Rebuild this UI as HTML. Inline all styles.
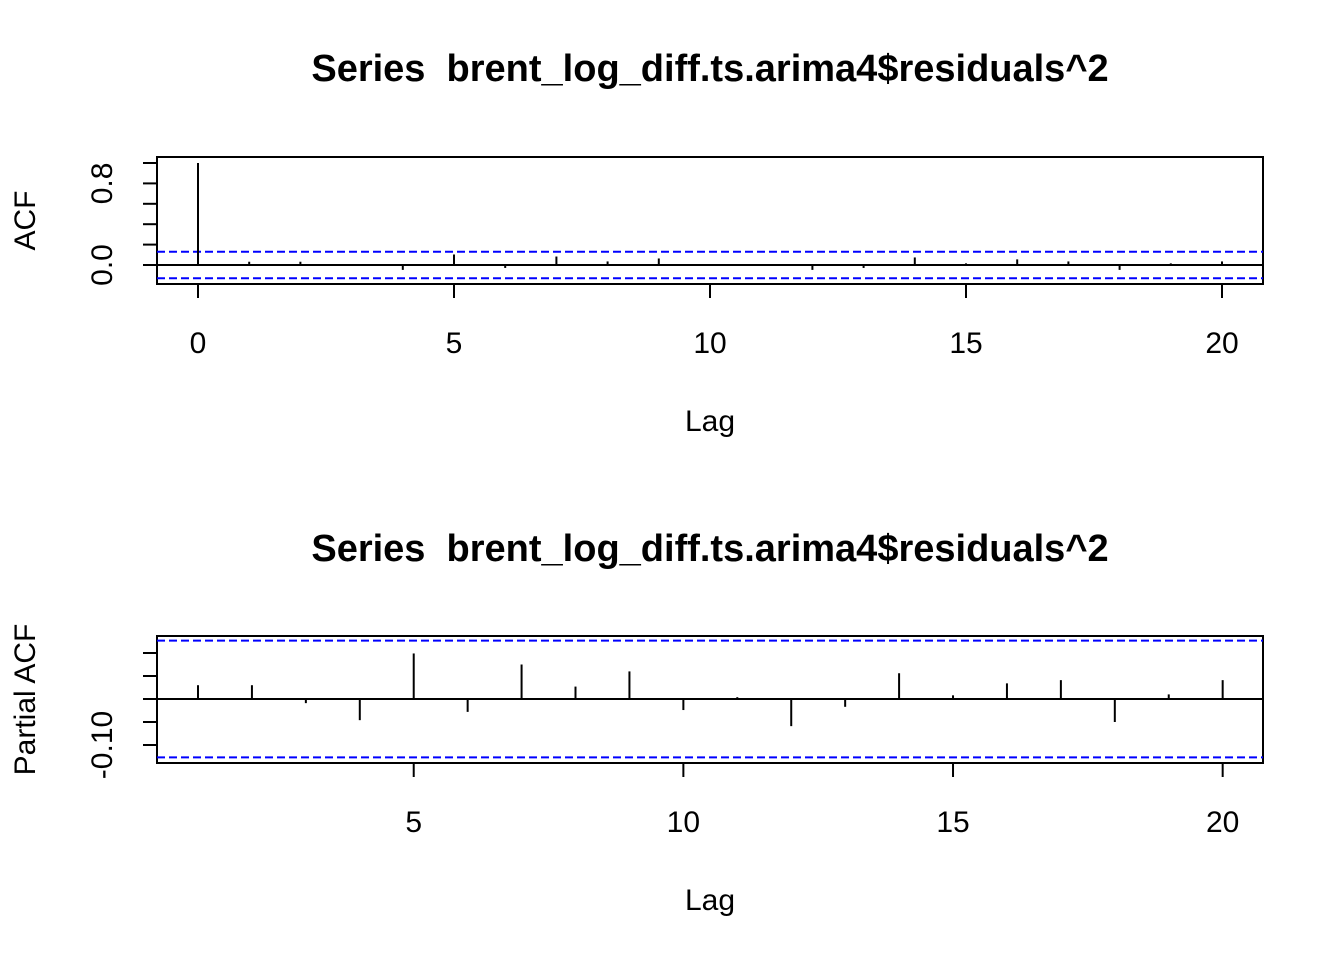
<!DOCTYPE html>
<html><head><meta charset="utf-8"><style>
html,body{margin:0;padding:0;background:#fff;}
svg{display:block;font-family:"Liberation Sans",Arial,sans-serif;}
text{white-space:pre;}
</style></head><body>
<svg id="chart" width="1344" height="960" viewBox="0 0 1344 960"></svg>
<script>
const acfLags = [0,1,2,3,4,5,6,7,8,9,10,11,12,13,14,15,16,17,18,19,20];
const acfValues = [1.0,0.032,0.032,0.0,-0.048,0.103,-0.029,0.083,0.035,0.064,0.0,0.0,-0.048,-0.029,0.074,0.016,0.055,0.035,-0.048,0.016,0.035];
const acfXTicks = [0,5,10,15,20];
const acfYTicks = [0,0.2,0.4,0.6,0.8,1.0];
const acfYLabels = [0.0,0.8];
const acfConf = 0.13;
const pacfLags = [1,2,3,4,5,6,7,8,9,10,11,12,13,14,15,16,17,18,19,20];
const pacfValues = [0.030,0.030,-0.009,-0.046,0.099,-0.028,0.075,0.027,0.060,-0.024,0.004,-0.059,-0.017,0.056,0.008,0.034,0.041,-0.050,0.010,0.041];
const pacfXTicks = [5,10,15,20];
const pacfYTicks = [-0.10,-0.05,0,0.05,0.10];
const pacfYLabels = [-0.10];
const pacfConf = 0.127;
const titleText = "Series  brent_log_diff.ts.arima4$residuals^2";

const svg = document.getElementById('chart');
const NS = 'http://www.w3.org/2000/svg';
function mk(tag, attrs, parent){const e=document.createElementNS(NS,tag);for(const k in attrs)e.setAttribute(k,attrs[k]);(parent||svg).appendChild(e);return e;}

function panel(cfg){
  const g = mk('g',{});
  
  
  const x = v => cfg.x0 + (v - cfg.lag0) * cfg.xs;
  const y = v => cfg.yZero - v * cfg.ys;
  const t = mk('text',{x:710,y:cfg.titleY,'text-anchor':'middle','font-size':'38','font-weight':'bold',fill:'#000'},g);
  t.setAttributeNS('http://www.w3.org/XML/1998/namespace','xml:space','preserve');
  t.textContent = titleText;
  
  
  const b = mk('rect',{x:cfg.bx0,y:cfg.by0,width:cfg.bx1-cfg.bx0,height:cfg.by1-cfg.by0,fill:'none',stroke:'#000','stroke-width':2},g);
  
  
  const z = mk('line',{x1:cfg.bx0,x2:cfg.bx1,y1:y(0),y2:y(0),stroke:'#000','stroke-width':2},g);
  
  
  [cfg.conf,-cfg.conf].forEach(c=>{
    const l = mk('line',{x1:cfg.bx0,x2:cfg.bx1,y1:y(c),y2:y(c),stroke:'#0000ff','stroke-width':2,'stroke-dasharray':'8 4'},g);
    
    
  });
  cfg.lags.forEach((lag,i)=>{
    const l = mk('line',{x1:x(lag),x2:x(lag),y1:y(0),y2:y(cfg.values[i]),stroke:'#000','stroke-width':2},g);
    
    
  });
  cfg.xTicks.forEach(v=>{
    const l = mk('line',{x1:x(v),x2:x(v),y1:cfg.by1,y2:cfg.by1+14,stroke:'#000','stroke-width':2},g);
    
    
    const tt = mk('text',{x:x(v),y:cfg.by1+69,'text-anchor':'middle','font-size':'30',fill:'#000'},g);
    tt.textContent = String(v);
    
    
  });
  cfg.yTicks.forEach(v=>{
    const l = mk('line',{x1:cfg.bx0,x2:cfg.bx0-14,y1:y(v),y2:y(v),stroke:'#000','stroke-width':2},g);
    
    
  });
  cfg.yLabels.forEach(v=>{
    const tt = mk('text',{x:0,y:0,'text-anchor':'middle','font-size':'30',fill:'#000',transform:`translate(112,${y(v)}) rotate(-90)`},g);
    tt.textContent = cfg.fmt(v);
    
    
  });
  const xl = mk('text',{x:710,y:cfg.by1+147,'text-anchor':'middle','font-size':'30',fill:'#000'},g);
  xl.textContent = 'Lag';
  
  
  const yl = mk('text',{x:0,y:0,'text-anchor':'middle','font-size':'30',fill:'#000',transform:`translate(35,${(cfg.by0+cfg.by1)/2}) rotate(-90)`},g);
  yl.textContent = cfg.ylab;
  
  
}

panel({name:'acf-panel',titleY:81,bx0:157,bx1:1263,by0:157,by1:284,x0:198,lag0:0,xs:51.2,yZero:265,ys:102,
  lags:acfLags,values:acfValues,xTicks:acfXTicks,yTicks:acfYTicks,yLabels:acfYLabels,conf:acfConf,ylab:'ACF',fmt:v=>v.toFixed(1)});
panel({name:'pacf-panel',titleY:561,bx0:157,bx1:1263,by0:636,by1:763,x0:198,lag0:1,xs:53.93,yZero:699,ys:460,
  lags:pacfLags,values:pacfValues,xTicks:pacfXTicks,yTicks:pacfYTicks,yLabels:pacfYLabels,conf:pacfConf,ylab:'Partial ACF',fmt:v=>v.toFixed(2)});
</script>
</body></html>
